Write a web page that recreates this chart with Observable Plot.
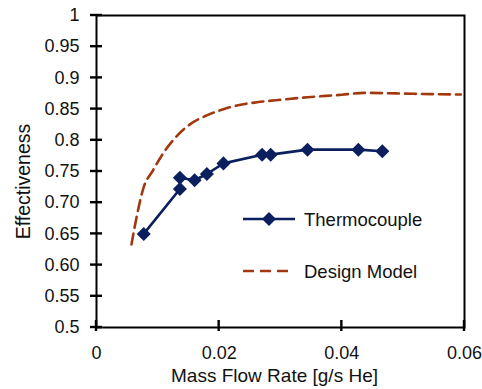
<!DOCTYPE html>
<html>
<head>
<meta charset="utf-8">
<script src="https://cdn.jsdelivr.net/npm/d3@7"></script>
<script src="https://cdn.jsdelivr.net/npm/@observablehq/plot@0.6"></script>
<style>
  html, body { margin: 0; padding: 0; background: #fff; }
  #chart { position: relative; width: 482px; height: 389px; }
</style>
</head>
<body>
<div id="chart"></div>
<script>
// Thermocouple measurements
const tcFlow = [0.0077, 0.0136, 0.0136, 0.0160, 0.0180, 0.0207, 0.0270, 0.0284, 0.0344, 0.0427, 0.0466];
const tcEff  = [0.650, 0.740, 0.722, 0.736, 0.746, 0.763, 0.777, 0.777, 0.785, 0.785, 0.7825];
const tcOrder = [0, 2, 1, 3, 4, 5, 6, 7, 8, 9, 10];

// Design model curve
const dmFlow = [0.0057, 0.0066, 0.0077, 0.0091, 0.0110, 0.0132, 0.0153, 0.0180, 0.0208, 0.0235, 0.0262, 0.0300, 0.0344, 0.0400, 0.0436, 0.0518, 0.0594];
const dmEff  = [0.633, 0.680, 0.725, 0.750, 0.781, 0.808, 0.826, 0.840, 0.850, 0.857, 0.861, 0.865, 0.869, 0.873, 0.876, 0.8745, 0.8734];

// Ticks
const xTicks = [0, 0.02, 0.04, 0.06];
const xTickLabels = ["0", "0.02", "0.04", "0.06"];
const yTicks = [0.5, 0.55, 0.6, 0.65, 0.7, 0.75, 0.8, 0.85, 0.9, 0.95, 1];
const yTickLabels = ["0.5", "0.55", "0.60", "0.65", "0.70", "0.75", "0.8", "0.85", "0.9", "0.95", "1"];

const seriesNames = ["Thermocouple", "Design Model"];
const xTitle = "Mass Flow Rate [g/s He]";
const yTitle = "Effectiveness";

const navy = "#0b1f5e";
const brown = "#a2380f";

const tc = tcOrder.map(i => ({x: tcFlow[i], y: tcEff[i]}));
const dm = dmFlow.map((x, i) => ({x, y: dmEff[i]}));

const diamond = {
  draw(ctx, size) {
    const r = Math.sqrt(size / 2);
    ctx.moveTo(0, -r); ctx.lineTo(r, 0); ctx.lineTo(0, r); ctx.lineTo(-r, 0); ctx.closePath();
  }
};

const font = "'Liberation Sans', Arial, sans-serif";

const plot = Plot.plot({
  width: 482,
  height: 389,
  marginLeft: 96,
  marginRight: 18,
  marginTop: 15,
  marginBottom: 62,
  style: {fontFamily: font, fontSize: "18px", color: "#111", background: "#fff"},
  x: {domain: [0, 0.06]},
  y: {domain: [0.5, 1]},
  marks: [
    Plot.axisX({ticks: xTicks, tickFormat: d => xTickLabels[xTicks.indexOf(d)], tickSize: 0, tickPadding: 19, label: null, fontSize: 18}),
    Plot.axisY({ticks: yTicks, tickFormat: d => yTickLabels[yTicks.indexOf(d)], tickSize: 0, tickPadding: 17, label: null, fontSize: 18}),
    Plot.line(dm, {x: "x", y: "y", stroke: brown, strokeWidth: 2.6, strokeDasharray: "11,6", curve: "monotone-x"}),
    Plot.line(tc, {x: "x", y: "y", stroke: navy, strokeWidth: 2.6}),
    Plot.dot(tc, {x: "x", y: "y", symbol: diamond, r: 5.6, fill: navy, stroke: "none"}),
    Plot.frame({stroke: "black", strokeWidth: 2}),
    Plot.text([xTitle], {frameAnchor: "bottom", lineAnchor: "middle", textAnchor: "middle", text: d => d, dy: 48, dx: -6, fontSize: 19, fill: "#111"}),
    Plot.text([yTitle], {frameAnchor: "left", lineAnchor: "middle", textAnchor: "middle", text: d => d, rotate: -90, dx: -73, dy: 10, fontSize: 19.5, fill: "#111"})
  ]
});

document.getElementById("chart").appendChild(plot);

const svg = d3.select(plot);
const xs = plot.scale("x"), ys = plot.scale("y");
const x0 = xs.apply(0), y0 = ys.apply(0.5);

// Crossing tick marks, placed through Plot's own scales
const tg = svg.append("g").attr("stroke", "black").attr("stroke-width", 2.4);
tg.selectAll("line.xt").data(xTicks).join("line").attr("class", "xt")
  .attr("x1", d => xs.apply(d)).attr("x2", d => xs.apply(d))
  .attr("y1", y0 - 7).attr("y2", y0 + 4);
tg.selectAll("line.yt").data(yTicks).join("line").attr("class", "yt")
  .attr("y1", d => ys.apply(d)).attr("y2", d => ys.apply(d))
  .attr("x1", x0 - 6).attr("x2", x0 + 6);

// Legend (inside the plot area)
const lg = svg.append("g").attr("font-family", font).attr("font-size", 18.5).attr("fill", "#111").attr("text-anchor", "start");
const rowY = [219, 271];
lg.append("line").attr("x1", 243).attr("x2", 295).attr("y1", rowY[0]).attr("y2", rowY[0]).attr("stroke", navy).attr("stroke-width", 2.6);
lg.append("path").attr("d", "M269,212L276,219L269,226L262,219Z").attr("fill", navy);
lg.append("line").attr("x1", 243).attr("x2", 291).attr("y1", rowY[1]).attr("y2", rowY[1]).attr("stroke", brown).attr("stroke-width", 2.6).attr("stroke-dasharray", "11,6");
lg.selectAll("text.lbl").data(seriesNames).join("text").attr("class", "lbl")
  .attr("x", 304).attr("y", (d, i) => rowY[i] + 7).attr("text-anchor", "start").text(d => d);
</script>
</body>
</html>
